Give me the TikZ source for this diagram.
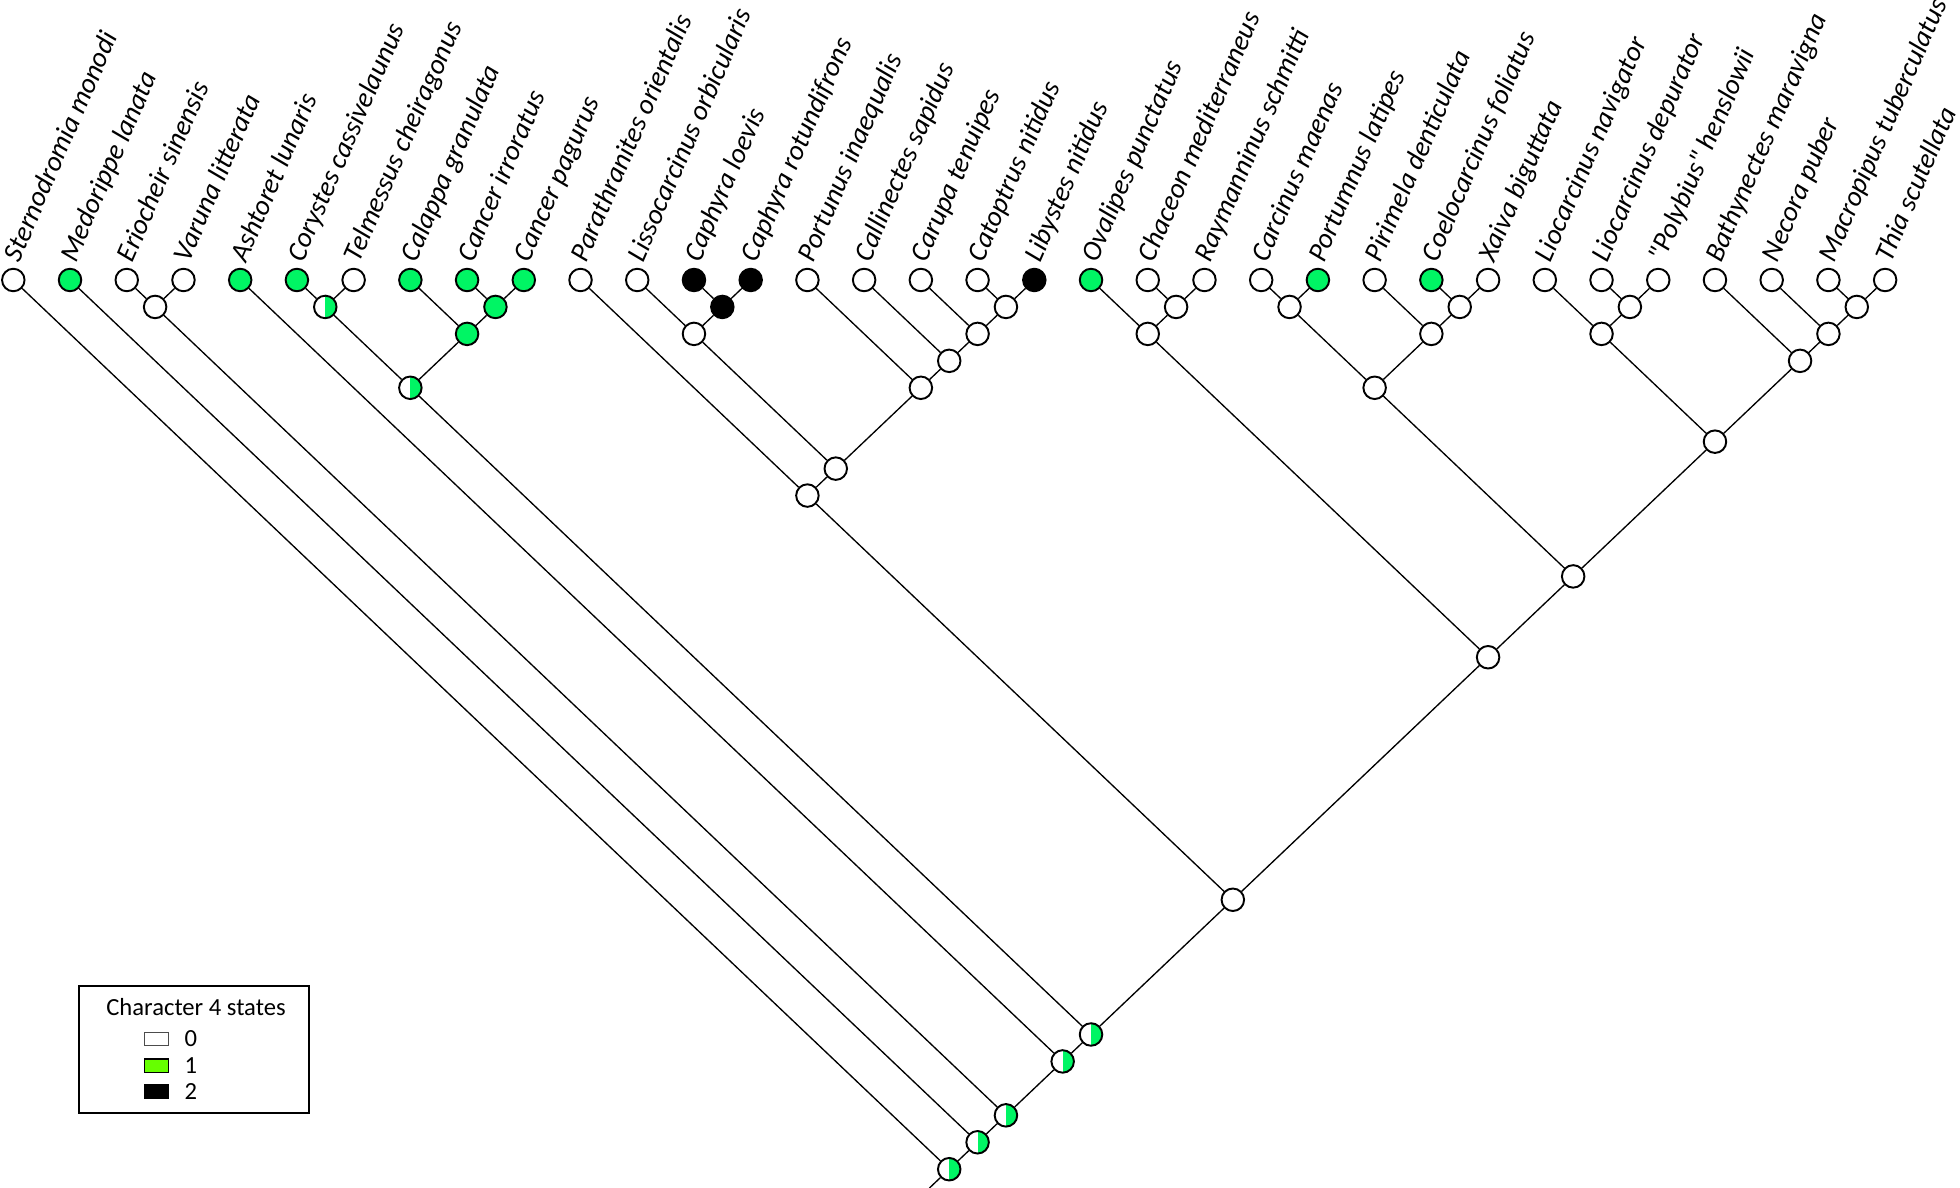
\documentclass[tikz,border=0pt]{standalone}
\usepackage{fontspec}
\newfontfamily\cfont{Carlito}
\definecolor{stgreen}{RGB}{0,245,100}
\definecolor{leggreen}{RGB}{102,255,0}

\begin{document}
\begin{tikzpicture}[
  x=0.01cm, y=-0.01cm,
  st0/.style={circle, draw, line width=0.55pt, fill=white, minimum size=2.25mm, inner sep=0pt},
  st1/.style={st0, fill=stgreen},
  st2/.style={st0, fill=black},
  st01/.style={st0, path picture={\fill[stgreen] (path picture bounding box.north)
               rectangle (path picture bounding box.south east);}},
  br/.style={line width=0.38pt},
  tx/.style={xshift=1.5mm, rotate=66.5, anchor=base west, inner sep=0pt,
             font=\cfont\itshape\fontsize{7.95}{9.5}\selectfont},
  label distance=1.0mm,
  sw/.style={draw, line width=0.4pt, minimum width=2.4mm, minimum height=1.35mm, inner sep=0pt},
  lt/.style={font=\cfont\fontsize{7}{8.5}\selectfont, inner sep=0pt}
]
\useasboundingbox (0,0) rectangle (1960,1188);

\begin{scope}[shift={(13.3,280)}]
\begin{scope}[x=0.5669cm, y=-0.5386cm]

% ---- terminal taxa ----
\node[st0, label={[tx]90:Sternodromia monodi}] (ster) at (0,0) {};
\node[st1, label={[tx]90:Medorippe lanata}] (medo) at (1,0) {};
\node[st0, label={[tx]90:Eriocheir sinensis}] (erio) at (2,0) {};
\node[st0, label={[tx]90:Varuna litterata}] (varu) at (3,0) {};
\node[st1, label={[tx]90:Ashtoret lunaris}] (asht) at (4,0) {};
\node[st1, label={[tx]90:Corystes cassivelaunus}] (cory) at (5,0) {};
\node[st0, label={[tx]90:Telmessus cheiragonus}] (telm) at (6,0) {};
\node[st1, label={[tx]90:Calappa granulata}] (cala) at (7,0) {};
\node[st1, label={[tx]90:Cancer irroratus}] (cirr) at (8,0) {};
\node[st1, label={[tx]90:Cancer pagurus}] (cpag) at (9,0) {};
\node[st0, label={[tx]90:Parathranites orientalis}] (para) at (10,0) {};
\node[st0, label={[tx]90:Lissocarcinus orbicularis}] (liss) at (11,0) {};
\node[st2, label={[tx]90:Caphyra loevis}] (cloe) at (12,0) {};
\node[st2, label={[tx]90:Caphyra rotundifrons}] (crot) at (13,0) {};
\node[st0, label={[tx]90:Portunus inaequalis}] (port) at (14,0) {};
\node[st0, label={[tx]90:Callinectes sapidus}] (call) at (15,0) {};
\node[st0, label={[tx]90:Carupa tenuipes}] (caru) at (16,0) {};
\node[st0, label={[tx]90:Catoptrus nitidus}] (cato) at (17,0) {};
\node[st2, label={[tx]90:Libystes nitidus}] (liby) at (18,0) {};
\node[st1, label={[tx]90:Ovalipes punctatus}] (oval) at (19,0) {};
\node[st0, label={[tx]90:Chaceon mediterraneus}] (chac) at (20,0) {};
\node[st0, label={[tx]90:Raymanninus schmitti}] (raym) at (21,0) {};
\node[st0, label={[tx]90:Carcinus maenas}] (carc) at (22,0) {};
\node[st1, label={[tx]90:Portumnus latipes}] (pmus) at (23,0) {};
\node[st0, label={[tx]90:Pirimela denticulata}] (piri) at (24,0) {};
\node[st1, label={[tx]90:Coelocarcinus foliatus}] (coel) at (25,0) {};
\node[st0, label={[tx]90:Xaiva biguttata}] (xaiv) at (26,0) {};
\node[st0, label={[tx]90:Liocarcinus navigator}] (lnav) at (27,0) {};
\node[st0, label={[tx]90:Liocarcinus depurator}] (ldep) at (28,0) {};
\node[st0, label={[tx]90:"Polybius" henslowii}] (poly) at (29,0) {};
\node[st0, label={[tx]90:Bathynectes maravigna}] (bath) at (30,0) {};
\node[st0, label={[tx]90:Necora puber}] (neco) at (31,0) {};
\node[st0, label={[tx]90:Macropipus tuberculatus}] (macr) at (32,0) {};
\node[st0, label={[tx]90:Thia scutellata}] (thia) at (33,0) {};

% ---- ancestral states ----
\node[st0] (nA) at (2.5,0.5) {};
\node[st01] (nB) at (5.5,0.5) {};
\node[st1] (nC1) at (8.5,0.5) {};
\node[st1] (nC2) at (8,1) {};
\node[st01] (nD) at (7,2) {};
\node[st2] (nE1) at (12.5,0.5) {};
\node[st0] (nE2) at (12,1) {};
\node[st0] (nF1) at (17.5,0.5) {};
\node[st0] (nF2) at (17,1) {};
\node[st0] (nF3) at (16.5,1.5) {};
\node[st0] (nF4) at (16,2) {};
\node[st0] (nG) at (14.5,3.5) {};
\node[st0] (nH) at (14,4) {};
\node[st0] (nI1) at (20.5,0.5) {};
\node[st0] (nI2) at (20,1) {};
\node[st0] (nJ1) at (22.5,0.5) {};
\node[st0] (nK1) at (25.5,0.5) {};
\node[st0] (nK2) at (25,1) {};
\node[st0] (nK3) at (24,2) {};
\node[st0] (nL1) at (28.5,0.5) {};
\node[st0] (nL2) at (28,1) {};
\node[st0] (nM1) at (32.5,0.5) {};
\node[st0] (nM2) at (32,1) {};
\node[st0] (nM3) at (31.5,1.5) {};
\node[st0] (nN) at (30,3) {};
\node[st0] (nO) at (27.5,5.5) {};
\node[st0] (nP) at (26,7) {};
\node[st0] (nQ) at (21.5,11.5) {};
\node[st01] (nR1) at (19,14) {};
\node[st01] (nR2) at (18.5,14.5) {};
\node[st01] (nR3) at (17.5,15.5) {};
\node[st01] (nR4) at (17,16) {};
\node[st01] (nR5) at (16.5,16.5) {};
\coordinate (stub) at (16.15,16.85);

% ---- branches ----
\draw[br] (erio) -- (nA);  \draw[br] (varu) -- (nA);
\draw[br] (cory) -- (nB);  \draw[br] (telm) -- (nB);
\draw[br] (cirr) -- (nC1); \draw[br] (cpag) -- (nC1);
\draw[br] (cala) -- (nC2); \draw[br] (nC1) -- (nC2);
\draw[br] (nB) -- (nD);    \draw[br] (nC2) -- (nD);
\draw[br] (cloe) -- (nE1); \draw[br] (crot) -- (nE1);
\draw[br] (liss) -- (nE2); \draw[br] (nE1) -- (nE2);
\draw[br] (cato) -- (nF1); \draw[br] (liby) -- (nF1);
\draw[br] (caru) -- (nF2); \draw[br] (nF1) -- (nF2);
\draw[br] (call) -- (nF3); \draw[br] (nF2) -- (nF3);
\draw[br] (port) -- (nF4); \draw[br] (nF3) -- (nF4);
\draw[br] (nE2) -- (nG);   \draw[br] (nF4) -- (nG);
\draw[br] (para) -- (nH);  \draw[br] (nG) -- (nH);
\draw[br] (chac) -- (nI1); \draw[br] (raym) -- (nI1);
\draw[br] (oval) -- (nI2); \draw[br] (nI1) -- (nI2);
\draw[br] (carc) -- (nJ1); \draw[br] (pmus) -- (nJ1);
\draw[br] (coel) -- (nK1); \draw[br] (xaiv) -- (nK1);
\draw[br] (piri) -- (nK2); \draw[br] (nK1) -- (nK2);
\draw[br] (nJ1) -- (nK3);  \draw[br] (nK2) -- (nK3);
\draw[br] (ldep) -- (nL1); \draw[br] (poly) -- (nL1);
\draw[br] (lnav) -- (nL2); \draw[br] (nL1) -- (nL2);
\draw[br] (macr) -- (nM1); \draw[br] (thia) -- (nM1);
\draw[br] (neco) -- (nM2); \draw[br] (nM1) -- (nM2);
\draw[br] (bath) -- (nM3); \draw[br] (nM2) -- (nM3);
\draw[br] (nL2) -- (nN);   \draw[br] (nM3) -- (nN);
\draw[br] (nK3) -- (nO);   \draw[br] (nN) -- (nO);
\draw[br] (nI2) -- (nP);   \draw[br] (nO) -- (nP);
\draw[br] (nH) -- (nQ);    \draw[br] (nP) -- (nQ);
\draw[br] (nD) -- (nR1);   \draw[br] (nQ) -- (nR1);
\draw[br] (asht) -- (nR2); \draw[br] (nR1) -- (nR2);
\draw[br] (nA) -- (nR3);   \draw[br] (nR2) -- (nR3);
\draw[br] (medo) -- (nR4); \draw[br] (nR3) -- (nR4);
\draw[br] (ster) -- (nR5); \draw[br] (nR4) -- (nR5);
\draw[br] (nR5) -- (stub);

\end{scope}
\end{scope}

% ---- legend ----
\node[draw, line width=0.5pt, minimum width=2.3cm, minimum height=1.27cm, inner sep=0pt] (leg) at (194,1049.4) {};
\node[lt, anchor=base] (legt) at (196,1015) {Character 4 states};
\node[sw, fill=white, draw=black!70] (sw0) at (156.6,1039) {};
\node[sw, fill=leggreen] (sw1) at (156.6,1065.7) {};
\node[sw, fill=black] (sw2) at (156.6,1091.2) {};
\node[lt, anchor=west] (lb0) at (184,1039) {0};
\node[lt, anchor=west] (lb1) at (184,1065.7) {1};
\node[lt, anchor=west] (lb2) at (184,1091.2) {2};

\end{tikzpicture}
\end{document}
